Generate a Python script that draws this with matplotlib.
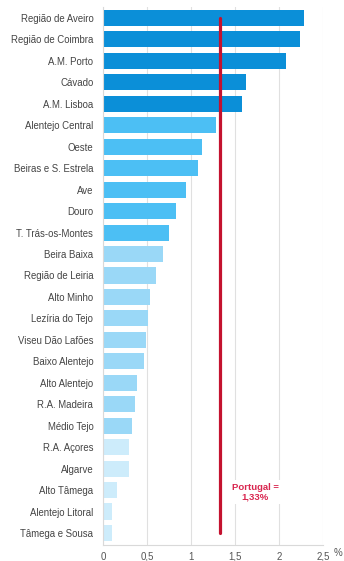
import matplotlib
matplotlib.use("Agg")
import matplotlib.pyplot as plt

# Dados (%)
regioes = ['Região de Aveiro', 'Região de Coimbra', 'A.M. Porto', 'Cávado', 'A.M. Lisboa',
           'Alentejo Central', 'Oeste', 'Beiras e S. Estrela', 'Ave', 'Douro',
           'T. Trás-os-Montes', 'Beira Baixa', 'Região de Leiria', 'Alto Minho',
           'Lezíria do Tejo', 'Viseu Dão Lafões', 'Baixo Alentejo', 'Alto Alentejo',
           'R.A. Madeira', 'Médio Tejo', 'R.A. Açores', 'Algarve', 'Alto Tâmega',
           'Alentejo Litoral', 'Tâmega e Sousa']
valores = [2.28, 2.24, 2.08, 1.62, 1.58, 1.28, 1.13, 1.08, 0.94, 0.83, 0.75, 0.68,
           0.60, 0.53, 0.51, 0.49, 0.47, 0.39, 0.36, 0.33, 0.30, 0.30, 0.16, 0.10, 0.10]
grupo = [0]*5 + [1]*6 + [2]*9 + [3]*5
portugal = 1.33

cores_grupo = ['#0b8fd8', '#4cbff4', '#9ad8f7', '#cdecfb']
cores = [cores_grupo[g] for g in grupo]

plt.rcParams['font.family'] = ['Liberation Sans', 'DejaVu Sans']

fig = plt.figure(figsize=(3.44, 5.61), dpi=100)
ax = fig.add_axes([0.2994, 0.0285, 0.6395, 0.959])

pos = list(range(len(regioes)))
ax.barh(pos, valores, height=0.75, color=cores, zorder=2)
ax.set_ylim(24.56, -0.51)
ax.set_xlim(0, 2.5)
ax.set_yticks(pos)
ax.set_yticklabels(regioes, fontsize=6.9, color='#444444')
ax.set_xticks([0, 0.5, 1, 1.5, 2, 2.5])
ax.set_xticklabels(['0', '0,5', '1', '1,5', '2', '2,5'], fontsize=7, color='#555555')
ax.tick_params(axis='y', length=0, pad=7)
ax.tick_params(axis='x', length=0, pad=5)

ax.grid(axis='x', color='#e0e0e0', linewidth=0.8, zorder=0)
for s in ['top', 'right']:
    ax.spines[s].set_visible(False)
ax.spines['left'].set_color('#d9d9d9')
ax.spines['bottom'].set_color('#d9d9d9')

# linha de Portugal
ax.plot([portugal, portugal], [0, 24], color='#c4122f', linewidth=2.3,
        solid_capstyle='round', zorder=3)
ax.text(1.73, 22.1, 'Portugal =\n1,33%', color='#d9264f', fontsize=6.8,
        fontweight='bold', ha='center', va='center', zorder=4,
        bbox=dict(facecolor='white', edgecolor='none', pad=1.5))

fig.text(0.995, 0.006, '%', fontsize=7, color='#555555', ha='right', va='bottom')

fig.savefig('out.png', dpi=100)
